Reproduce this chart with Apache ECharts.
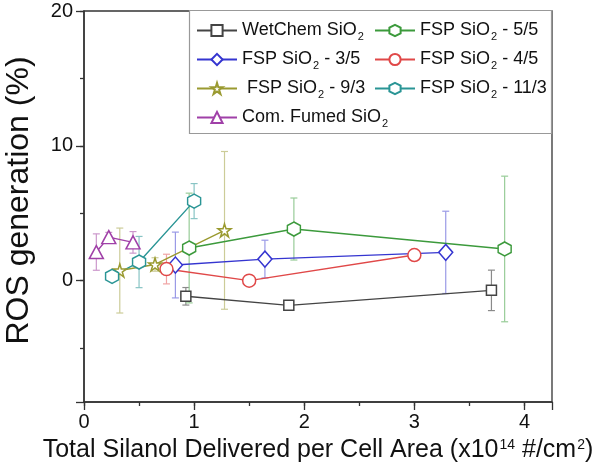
<!DOCTYPE html>
<html><head><meta charset="utf-8">
<script src="https://cdn.jsdelivr.net/npm/echarts@6/dist/echarts.min.js"></script>
<style>html,body{margin:0;padding:0;background:#fff}#c{width:596px;height:475px}</style>
</head><body><div id="c"></div>
<script>
// Series data: x (x10^14 #/cm^2), y (ROS %), error (±)
const wetX = [0.925, 1.86, 3.70];
const wetY = [-1.16, -1.83, -0.72];
const wetE = [0.65, 0.25, 1.5];

const f55X = [0.955, 1.906, 3.82];
const f55Y = [2.42, 3.83, 2.35];
const f55E = [4.07, 2.3, 5.4];

const f35X = [0.83, 1.643, 3.285];
const f35Y = [1.16, 1.6, 2.1];
const f35E = [2.44, 1.4, 3.05];

const f45X = [0.749, 1.5, 3.0];
const f45Y = [0.86, 0.0, 1.9];
const f45E = [1.1, 0.35, 0.2];

const f93X = [0.325, 0.645, 1.276];
const f93Y = [0.75, 1.2, 3.73];
const f93E = [3.15, 0.5, 5.85];

const f113X = [0.255, 0.5, 1.0];
const f113Y = [0.32, 1.38, 5.9];
const f113E = [0.2, 1.9, 1.3];

const comX = [0.112, 0.225, 0.445];
const comY = [2.12, 3.23, 2.84];
const comE = [1.35, 0.35, 0.8];

const xTickLabels = ['0', '1', '2', '3', '4'];
const yTickLabels = ['0', '10', '20'];

const seriesNames = ['WetChem SiO2', 'FSP SiO2 - 5/5', 'FSP SiO2 - 3/5', 'FSP SiO2 - 4/5', ' FSP SiO2 - 9/3', 'FSP SiO2 - 11/3', 'Com. Fumed SiO2'];

const star = 'path://M0,-1 L0.2245,-0.309 L0.951,-0.309 L0.363,0.118 L0.588,0.809 L0,0.382 L-0.588,0.809 L-0.363,0.118 L-0.951,-0.309 L-0.2245,-0.309 Z';
const hex = 'path://M0,-1 L0.866,-0.5 L0.866,0.5 L0,1 L-0.866,0.5 L-0.866,-0.5 Z';

const defs = [
  {name: seriesNames[0], x: wetX, y: wetY, e: wetE, color: '#444444', ecolor: '#8a8a8a', symbol: 'rect', size: 10},
  {name: seriesNames[1], x: f55X, y: f55Y, e: f55E, color: '#3c9a3c', ecolor: '#98cc98', symbol: hex, size: [13, 14]},
  {name: seriesNames[2], x: f35X, y: f35Y, e: f35E, color: '#3535d0', ecolor: '#9a9ae6', symbol: 'diamond', size: [14, 16]},
  {name: seriesNames[3], x: f45X, y: f45Y, e: f45E, color: '#e04848', ecolor: '#f0a4a4', symbol: 'circle', size: 13},
  {name: seriesNames[4], x: f93X, y: f93Y, e: f93E, color: '#9a9a30', ecolor: '#cccc98', symbol: star, size: 13},
  {name: seriesNames[5], x: f113X, y: f113Y, e: f113E, color: '#2a9595', ecolor: '#88c4c4', symbol: hex, size: [13, 14]},
  {name: seriesNames[6], x: comX, y: comY, e: comE, color: '#a040a8', ecolor: '#cc98cc', symbol: 'triangle', size: [14, 13]}
];

function fmtName(n) {
  return n.replace('SiO2', 'SiO{sub|2}');
}

const series = [];
defs.forEach(function (d) {
  series.push({
    type: 'custom',
    silent: true,
    z: 1,
    xAxisIndex: 0, yAxisIndex: 0,
    data: d.x.map(function (xv, i) { return [xv, d.y[i], d.e[i]]; }),
    encode: {x: 0, y: 1},
    renderItem: function (params, api) {
      const xv = api.value(0), yv = api.value(1), ev = api.value(2);
      const top = api.coord([xv, yv + ev]);
      const bot = api.coord([xv, yv - ev]);
      const cw = 3.5;
      const st = {stroke: d.ecolor, lineWidth: 1.2};
      return {
        type: 'group',
        children: [
          {type: 'line', shape: {x1: top[0], y1: top[1], x2: bot[0], y2: bot[1]}, style: st},
          {type: 'line', shape: {x1: top[0] - cw, y1: top[1], x2: top[0] + cw, y2: top[1]}, style: st},
          {type: 'line', shape: {x1: bot[0] - cw, y1: bot[1], x2: bot[0] + cw, y2: bot[1]}, style: st}
        ]
      };
    }
  });
});
defs.forEach(function (d) {
  series.push({
    type: 'line',
    name: d.name,
    z: 3,
    xAxisIndex: 0, yAxisIndex: 0,
    data: d.x.map(function (xv, i) { return [xv, d.y[i]]; }),
    symbol: d.symbol,
    symbolSize: d.size,
    showAllSymbol: true,
    color: d.color,
    lineStyle: {color: d.color, width: 1.4},
    itemStyle: {color: '#ffffff', borderColor: d.color, borderWidth: 1.5},
    emphasis: {disabled: true},
    animation: false
  });
});

const legendText = {
  fontFamily: 'Liberation Sans',
  fontSize: 18,
  color: '#111',
  lineHeight: 22,
  rich: {
    sub: {fontSize: 11, fontFamily: 'Liberation Sans', color: '#111', padding: [12, 0, 0, 1], lineHeight: 22}
  }
};

const option = {
  animation: false,
  backgroundColor: '#ffffff',
  grid: {left: 84, right: 44, top: 11, bottom: 73, show: true, borderColor: '#333', borderWidth: 1.3,
         containLabel: false, outerBoundsMode: 'none'},
  graphic: [{
    type: 'rect', z: 50, zlevel: 0,
    shape: {x: 189.5, y: 10.5, width: 362, height: 123},
    style: {fill: '#ffffff', stroke: '#999', lineWidth: 1.2}
  }],
  legend: [
    {data: [seriesNames[0], seriesNames[2], seriesNames[4], seriesNames[6]], orient: 'vertical', left: 191, top: 14,
     itemWidth: 40, itemHeight: 14, itemGap: 6, z: 60, formatter: fmtName, textStyle: legendText, selectedMode: false},
    {data: [seriesNames[1], seriesNames[3], seriesNames[5]], orient: 'vertical', left: 369, top: 14,
     itemWidth: 40, itemHeight: 14, itemGap: 6, z: 60, formatter: fmtName, textStyle: legendText, selectedMode: false}
  ],
  xAxis: [{
    type: 'value', min: 0, max: 4.25, interval: 0.5,
    splitLine: {show: false},
    axisLine: {show: true, onZero: false, lineStyle: {color: '#333', width: 1.5}},
    axisTick: {show: true, inside: false, length: 4, lineStyle: {color: '#333', width: 1.3}},
    axisLabel: {
      fontFamily: 'Liberation Sans', fontSize: 20, color: '#111', margin: 10,
      formatter: function (v) { return Number.isInteger(v) && v >= 0 && v <= 4 ? xTickLabels[v] : ''; },
      showMaxLabel: false
    },
    name: 'Total Silanol Delivered per Cell Area (x10{sup|14} #/cm{sup|2})',
    nameLocation: 'middle', nameGap: 36,
    nameTextStyle: {fontFamily: 'Liberation Sans', fontSize: 25, color: '#111',
      rich: {sup: {fontSize: 14, fontFamily: 'Liberation Sans', color: '#111', padding: [0, 0, 11, 1]}}}
  }, {
    type: 'value', min: 0, max: 4.25, interval: 1, position: 'bottom',
    splitLine: {show: false},
    axisLine: {show: false, onZero: false},
    axisTick: {show: true, length: 8, lineStyle: {color: '#333', width: 1.3}},
    axisLabel: {show: false}
  }],
  yAxis: [{
    type: 'value', min: -9, max: 20, splitNumber: 6,
    splitLine: {show: false},
    axisLine: {show: true, onZero: false, lineStyle: {color: '#333', width: 1.5}},
    axisTick: {show: true, length: 4, lineStyle: {color: '#333', width: 1.3}},
    axisLabel: {
      fontFamily: 'Liberation Sans', fontSize: 20, color: '#111', margin: 11, showMinLabel: false,
      formatter: function (v) { return v % 10 === 0 && v >= 0 ? yTickLabels[v / 10] : ''; }
    },
    name: 'ROS generation (%)', nameLocation: 'middle', nameGap: 49,
    nameTextStyle: {fontFamily: 'Liberation Sans', fontSize: 32, color: '#111', padding: [0, 0, 0, 12]}
  }, {
    type: 'value', min: -9, max: 20, splitNumber: 3, position: 'left',
    splitLine: {show: false},
    axisLine: {show: false, onZero: false},
    axisTick: {show: true, length: 8, lineStyle: {color: '#333', width: 1.3}},
    axisLabel: {show: false}
  }],
  series: series
};

const chart = echarts.init(document.getElementById('c'), null, {renderer: 'canvas'});
chart.setOption(option);
</script>
</body></html>
